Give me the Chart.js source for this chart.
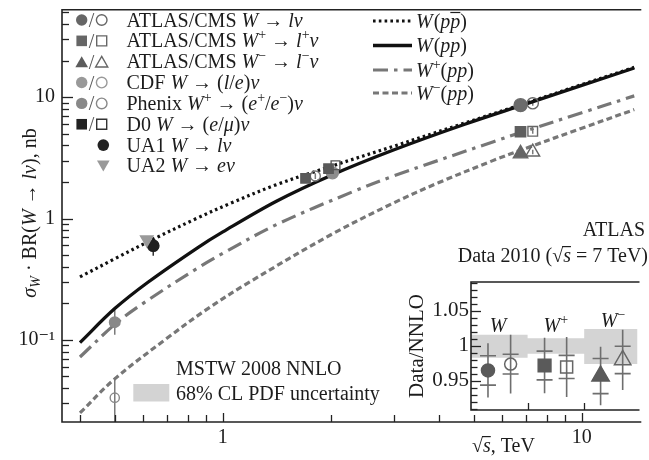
<!DOCTYPE html>
<html><head><meta charset="utf-8">
<script src="https://cdn.jsdelivr.net/npm/chart.js@4.4.0/dist/chart.umd.min.js"></script>
<style>
html,body{margin:0;padding:0;background:#fff;}
#wrap{position:relative;width:649px;height:460px;overflow:hidden;background:#fff;}
#main{position:absolute;left:0;top:0;}
#inset{position:absolute;left:380px;top:270px;}
</style></head><body>
<div id="wrap"><canvas id="main" width="649" height="460"></canvas><canvas id="inset" width="269" height="160"></canvas></div>
<script>
// ---------------- DATA ----------------
// Theory curves: sqrt(s) [TeV] and sigma*BR [nb]
const sqrtsWppbar = [0.4, 0.5, 0.63, 0.85, 1.05, 1.41, 2.0, 3.0, 4.7, 7.0, 10, 14];
const sigWppbar   = [0.33, 0.466, 0.66, 1.01, 1.334, 1.9, 2.69, 3.95, 6.1, 8.95, 12.7, 17.6];
const sqrtsWpp    = [0.4, 0.5, 0.62, 0.85, 1.0, 1.41, 2.0, 3.0, 4.7, 7.0, 10, 14];
const sigWpp      = [0.095, 0.181, 0.30, 0.574, 0.776, 1.39, 2.267, 3.687, 5.96, 8.81, 12.5, 17.38];
const sqrtsWplus  = [0.4, 0.5, 0.6, 0.85, 1.0, 1.41, 2.29, 3.0, 5.65, 7.0, 10, 14];
const sigWplus    = [0.0722, 0.134, 0.200, 0.39, 0.516, 0.89, 1.653, 2.249, 4.28, 5.29, 7.44, 10.25];
const sqrtsWminus = [0.4, 0.5, 0.7, 0.9, 1.17, 2.0, 3.0, 4.0, 5.65, 7.0, 10, 14];
const sigWminus   = [0.025, 0.0477, 0.1034, 0.1774, 0.292, 0.735, 1.35, 1.98, 3.0, 3.8, 5.55, 7.9];

// Measurements
const measLabels = ['ATLAS W','CMS W','ATLAS W+','CMS W+','ATLAS W-','CMS W-','CDF a','CDF b','Phenix W+','Phenix W-','D0 a','D0 b','D0 c','UA1','UA2'];
const measSqrtS  = [6.75, 7.3, 6.75, 7.3, 6.75, 7.3, 1.81, 2.02, 0.5, 0.5, 1.70, 1.97, 2.06, 0.64, 0.614];
const measSigma  = [8.6, 8.9, 5.19, 5.23, 3.42, 3.53, 2.24, 2.38, 0.14, 0.0334, 2.14, 2.58, 2.75, 0.597, 0.671];
const measErrLo  = [null, 8.5, null, 5.0, null, 3.38, 2.12, null, 0.110, 0.015, null, null, null, 0.494, null];
const measErrHi  = [null, 9.3, null, 5.45, null, 3.68, 2.36, null, 0.177, 0.049, null, null, null, 0.697, null];

// Inset: Data / NNLO
const insetPos      = [0.30, 0.70, 1.30, 1.69, 2.29, 2.68];
const insetRatio    = [0.965, 0.974, 0.972, 0.970, 0.957, 0.980];
const insetErrInner = [0.021, 0.014, 0.0205, 0.0165, 0.025, 0.0195];
const insetErrTotal = [0.0386, 0.042, 0.0395, 0.0427, 0.0417, 0.043];
const insetBandEdges = [0, 1, 2, 3];
const insetBandLo    = [0.983, 0.9886, 0.974];
const insetBandHi    = [1.016, 1.011, 1.024];
const insetGroupLabels = ['W', 'W+', 'W−'];

// Tick values / labels
const xMajorTicks  = [1, 10];
const xMajorLabels = ['1', '10'];
const xMinorTicks  = [0.4, 0.5, 0.6, 0.7, 0.8, 0.9, 2, 3, 4, 5, 6, 7, 8, 9];
const yMajorTicks  = [0.1, 1, 10];
const yMajorLabels = ['10⁻¹', '1', '10'];
const yMinorTicks  = [0.03,0.04,0.05,0.06,0.07,0.08,0.09,0.2,0.3,0.4,0.5,0.6,0.7,0.8,0.9,2,3,4,5,6,7,8,9,20,30,40,50];
const insetMajorTicks  = [0.95, 1, 1.05];
const insetMajorLabels = ['0.95', '1', '1.05'];
const insetMinorTicks  = [0.91,0.92,0.93,0.94,0.96,0.97,0.98,0.99,1.01,1.02,1.03,1.04,1.06,1.07,1.08,1.09];

// ---------------- STYLE ----------------
const FONT = '"Liberation Serif","DejaVu Serif","Times New Roman",serif';
const INK = '#1c1c1c';
const T = 'rgba(0,0,0,0)';
const measStyle = [
  {ps:'circle', r:6.5, bg:'#6b6b6b', bc:'#6b6b6b'},
  {ps:'circle', r:5.6, bg:T, bc:'#666'},
  {ps:'rect', r:7.3, bg:'#5f5f5f', bc:'#5f5f5f'},
  {ps:'rect', r:6.8, bg:T, bc:'#666'},
  {ps:'triangle', r:8.3, bg:'#666', bc:'#666'},
  {ps:'triangle', r:8, bg:T, bc:'#666'},
  {ps:'circle', r:5, bg:T, bc:'#777'},
  {ps:'circle', r:6, bg:'#8c8c8c', bc:'#8c8c8c'},
  {ps:'circle', r:5.3, bg:'#888', bc:'#888'},
  {ps:'circle', r:4.6, bg:T, bc:'#888'},
  {ps:'rect', r:6.6, bg:'#5a5a5a', bc:'#5a5a5a'},
  {ps:'rect', r:6.6, bg:'#5a5a5a', bc:'#5a5a5a'},
  {ps:'rect', r:6.2, bg:T, bc:'#555'},
  {ps:'circle', r:5.7, bg:'#1e1e1e', bc:'#1e1e1e', eb:'#333'},
  {ps:'triangle', r:7.2, rot:180, bg:'#9a9a9a', bc:'#9a9a9a'}
];
const insetStyle = [
  {ps:'circle', r:6.5, bg:'#5a5a5a', bc:'#5a5a5a'},
  {ps:'circle', r:6, bg:T, bc:'#666'},
  {ps:'rect', r:9, bg:'#5a5a5a', bc:'#5a5a5a'},
  {ps:'rect', r:8.5, bg:T, bc:'#666'},
  {ps:'triangle', r:10, bg:'#5a5a5a', bc:'#5a5a5a'},
  {ps:'triangle', r:9.5, bg:T, bc:'#666'}
];

// ---------------- TEXT HELPERS ----------------
function fnt(r, size){ const s = (r.sup||r.sub) ? size*0.7 : size; return (r.i?'italic ':'') + s.toFixed(1) + 'px ' + FONT; }
function runsW(ctx, runs, size){ let w=0; for(const r of runs){ ctx.font=fnt(r,size); w += ctx.measureText(r.t).width + (r.dx||0);} return w; }
function drawRuns(ctx, x, y, runs, size, align, color){
  const w = runsW(ctx, runs, size);
  let cx = align==='center' ? x-w/2 : align==='right' ? x-w : x;
  ctx.fillStyle = color || INK; ctx.textAlign='left'; ctx.textBaseline='alphabetic';
  for(const r of runs){
    ctx.font = fnt(r,size);
    const dy = r.sup ? -size*0.4 : r.sub ? size*0.22 : 0;
    ctx.fillText(r.t, cx, y+dy);
    const rw = ctx.measureText(r.t).width;
    if(r.bar){ ctx.fillRect(cx + (r.bl||0), y - size*(r.by||0.74), rw - (r.bl||0) + (r.br||0), Math.max(1.1, size*0.06)); }
    cx += rw + (r.dx||0);
  }
  return w;
}
function marker(ctx, type, x, y, r, fill, stroke, lw){
  ctx.beginPath();
  if(type==='circle') ctx.arc(x,y,r,0,Math.PI*2);
  else if(type==='rect') ctx.rect(x-r,y-r,2*r,2*r);
  else if(type==='tri'){ ctx.moveTo(x,y-r); ctx.lineTo(x+r*0.866,y+r*0.5); ctx.lineTo(x-r*0.866,y+r*0.5); ctx.closePath(); }
  else if(type==='triDown'){ ctx.moveTo(x,y+r); ctx.lineTo(x+r*0.866,y-r*0.5); ctx.lineTo(x-r*0.866,y-r*0.5); ctx.closePath(); }
  if(fill){ ctx.fillStyle=fill; ctx.fill(); }
  if(stroke){ ctx.strokeStyle=stroke; ctx.lineWidth=lw||1.5; ctx.stroke(); }
}
const pts = (xs, ys) => xs.map((v,i)=>({x:v, y:ys[i]}));
const zeroPad = (s)=>{ s.paddingTop=0; s.paddingBottom=0; s.paddingLeft=0; s.paddingRight=0; };

// ---------------- MAIN CHART ----------------
const leftLegend = [
  {f:['circle',5.7,'#666'], o:['circle',5.3,'#666'], runs:[{t:'ATLAS/CMS '},{t:'W',i:1},{t:' → '},{t:'lν',i:1}]},
  {f:['rect',5.3,'#666'], o:['rect',5,'#666'], runs:[{t:'ATLAS/CMS '},{t:'W',i:1},{t:'+',sup:1},{t:' → '},{t:'l',i:1},{t:'+',sup:1},{t:'ν',i:1}]},
  {f:['tri',7.3,'#5c5c5c'], o:['tri',7,'#666'], runs:[{t:'ATLAS/CMS '},{t:'W',i:1},{t:'−',sup:1},{t:' → '},{t:'l',i:1},{t:'−',sup:1},{t:'ν',i:1}]},
  {f:['circle',5.7,'#999'], o:['circle',5.3,'#999'], runs:[{t:'CDF '},{t:'W',i:1},{t:' → ('},{t:'l',i:1},{t:'/'},{t:'e',i:1},{t:')'},{t:'ν',i:1}]},
  {f:['circle',5.7,'#888'], o:['circle',5.3,'#888'], runs:[{t:'Phenix '},{t:'W',i:1},{t:'+',sup:1},{t:' → ('},{t:'e',i:1},{t:'+',sup:1},{t:'/'},{t:'e',i:1},{t:'−',sup:1},{t:')'},{t:'ν',i:1}]},
  {f:['rect',5.3,'#222'], o:['rect',5,'#333'], runs:[{t:'D0 '},{t:'W',i:1},{t:' → ('},{t:'e',i:1},{t:'/'},{t:'μ',i:1},{t:')'},{t:'ν',i:1}]},
  {c:['circle',5.8,'#222'], runs:[{t:'UA1 '},{t:'W',i:1},{t:' → '},{t:'lν',i:1}]},
  {c:['triDown',7.3,'#999'], runs:[{t:'UA2 '},{t:'W',i:1},{t:' → '},{t:'eν',i:1}]}
];
const rightLegend = [
  {color:'#111', dash:[2.6,3.2], w:3.2, y:21, runs:[{t:'W',i:1,dx:1},{t:'('},{t:'p',i:1},{t:'p',i:1,bar:1,by:0.78},{t:')'}]},
  {color:'#111', dash:[], w:3.3, y:45.5, runs:[{t:'W',i:1,dx:1},{t:'('},{t:'pp',i:1},{t:')'}]},
  {color:'#777', dash:[15,6,3.5,6], w:3.2, y:70, runs:[{t:'W',i:1},{t:'+',sup:1},{t:'('},{t:'pp',i:1},{t:')'}]},
  {color:'#777', dash:[6,3.5], w:3.2, y:93, runs:[{t:'W',i:1},{t:'−',sup:1},{t:'('},{t:'pp',i:1},{t:')'}]}
];

const mainDeco = {
  id:'mainDeco',
  beforeDatasetsDraw(chart){
    const {ctx, chartArea:a, scales:{x,y}} = chart;
    ctx.save(); ctx.beginPath(); ctx.rect(a.left,a.top,a.right-a.left,a.bottom-a.top); ctx.clip();
    ctx.lineWidth = 1.5;
    for(let i=0;i<measSqrtS.length;i++){
      if(measErrLo[i]==null) continue;
      const px = x.getPixelForValue(measSqrtS[i]);
      ctx.strokeStyle = measStyle[i].eb || '#7a7a7a';
      ctx.beginPath(); ctx.moveTo(px, y.getPixelForValue(measErrLo[i])); ctx.lineTo(px, y.getPixelForValue(measErrHi[i])); ctx.stroke();
    }
    ctx.restore();
  },
  afterDraw(chart){
    const {ctx, chartArea:a, scales:{x,y}} = chart;
    ctx.save();
    ctx.strokeStyle = '#222'; ctx.lineWidth = 1.6;
    ctx.beginPath();
    ctx.moveTo(a.right+2, a.top); ctx.lineTo(a.left, a.top); ctx.lineTo(a.left, a.bottom); ctx.lineTo(a.right+2, a.bottom);
    ctx.stroke();
    ctx.lineWidth = 1.3;
    const yt = (v,len)=>{ const p=Math.round(y.getPixelForValue(v))+0.5; ctx.beginPath(); ctx.moveTo(a.left,p); ctx.lineTo(a.left+len,p); ctx.stroke(); };
    const xt = (v,len)=>{ const p=Math.round(x.getPixelForValue(v))+0.5; ctx.beginPath(); ctx.moveTo(p,a.bottom); ctx.lineTo(p,a.bottom-len); ctx.stroke(); };
    yMajorTicks.forEach(v=>yt(v,11)); yMinorTicks.forEach(v=>yt(v,7));
    xMajorTicks.forEach(v=>xt(v,9)); xMinorTicks.forEach(v=>xt(v,7));
    ctx.save(); ctx.translate(36, 213); ctx.rotate(-Math.PI/2);
    drawRuns(ctx, 0, 0, [{t:'σ',i:1},{t:'W',i:1,sub:1},{t:' · BR('},{t:'W',i:1},{t:' → '},{t:'lν',i:1},{t:'), nb'}], 20, 'center');
    ctx.restore();
    drawRuns(ctx, 472, 452, [{t:'√'},{t:'s',i:1,bar:1,by:0.8,bl:-1},{t:', TeV'}], 20, 'left');
    leftLegend.forEach((e,i)=>{
      const ry = 20 + 20.85*i;
      if(e.c){ const off = e.c[0]==='triDown' ? -e.c[1]/4 : 0; marker(ctx, e.c[0], 103.3, ry+off, e.c[1], e.c[2]); }
      else {
        const offF = e.f[0]==='tri' ? e.f[1]/4 : 0, offO = e.o[0]==='tri' ? e.o[1]/4 : 0;
        marker(ctx, e.f[0], 81.7, ry+offF, e.f[1], e.f[2]);
        ctx.font = '20px '+FONT; ctx.fillStyle='#555'; ctx.textAlign='center'; ctx.textBaseline='alphabetic';
        ctx.fillText('/', 91.5, ry+7);
        marker(ctx, e.o[0], 101.7, ry+offO, e.o[1], null, e.o[2], 1.4);
      }
      drawRuns(ctx, 126.5, ry+6.5, e.runs, 20, 'left');
    });
    rightLegend.forEach(e=>{
      ctx.save(); ctx.strokeStyle=e.color; ctx.lineWidth=e.w; ctx.setLineDash(e.dash); ctx.lineCap='butt';
      ctx.beginPath(); ctx.moveTo(373, e.y); ctx.lineTo(412, e.y); ctx.stroke(); ctx.restore();
      drawRuns(ctx, 416, e.y+6.5, e.runs, 20, 'left');
    });
    drawRuns(ctx, 645, 236, [{t:'ATLAS'}], 20, 'right');
    drawRuns(ctx, 648, 262, [{t:'Data 2010 ('},{t:'√'},{t:'s',i:1,bar:1,by:0.8,bl:-1},{t:' = 7 TeV)'}], 20, 'right');
    drawRuns(ctx, 176, 375, [{t:'MSTW 2008 NNLO'}], 20, 'left');
    drawRuns(ctx, 176, 400, [{t:'68% CL PDF uncertainty'}], 20, 'left');
    ctx.fillStyle = '#d3d3d3'; ctx.fillRect(133.3, 384, 36, 17.5);
    ctx.restore();
  }
};

const X_MIN = 0.35645, X_MAX = 14.46, Y_MIN = 0.02104, Y_MAX = 52.6;
const curveDefaults = {showLine:true, pointRadius:0, borderCapStyle:'butt', tension:0.35, fill:false};

new Chart(document.getElementById('main'), {
  type:'scatter',
  data:{ datasets:[
    { label:'measurements', data: pts(measSqrtS, measSigma),
      pointStyle: measStyle.map(s=>s.ps), pointRadius: measStyle.map(s=>s.r),
      pointRotation: measStyle.map(s=>s.rot||0),
      pointBackgroundColor: measStyle.map(s=>s.bg), pointBorderColor: measStyle.map(s=>s.bc),
      pointBorderWidth: 1.4, showLine:false },
    Object.assign({label:'W(ppbar)', data: pts(sqrtsWppbar, sigWppbar), borderColor:'#111', borderWidth:3.2, borderDash:[2.6,3.2]}, curveDefaults),
    Object.assign({label:'W(pp)', data: pts(sqrtsWpp, sigWpp), borderColor:'#111', borderWidth:3.3}, curveDefaults),
    Object.assign({label:'W+(pp)', data: pts(sqrtsWplus, sigWplus), borderColor:'#777', borderWidth:3.2, borderDash:[15,6,3.5,6]}, curveDefaults),
    Object.assign({label:'W-(pp)', data: pts(sqrtsWminus, sigWminus), borderColor:'#777', borderWidth:3.2, borderDash:[6,3.5]}, curveDefaults)
  ]},
  options:{
    responsive:false, animation:false, events:[],
    layout:{padding:{left:0,right:0,top:4,bottom:0}},
    plugins:{legend:{display:false}, tooltip:{enabled:false}},
    scales:{
      x:{ type:'logarithmic', min:X_MIN, max:X_MAX,
          grid:{display:false, drawTicks:false}, border:{display:false},
          afterBuildTicks(s){ s.ticks = xMajorTicks.concat(xMinorTicks).sort((a,b)=>a-b).map(v=>({value:v})); },
          ticks:{ autoSkip:false, maxRotation:0, minRotation:0, padding:4, color:INK, font:{family:FONT, size:20},
                  callback:(v)=>{ const k=xMajorTicks.indexOf(v); return k>=0 ? xMajorLabels[k] : ''; } },
          afterFit(s){ s.height = 38; zeroPad(s); } },
      y:{ type:'logarithmic', min:Y_MIN, max:Y_MAX,
          grid:{display:false, drawTicks:false}, border:{display:false},
          afterBuildTicks(s){ s.ticks = yMajorTicks.concat(yMinorTicks).sort((a,b)=>a-b).map(v=>({value:v})); },
          ticks:{ autoSkip:false, padding:7, color:INK, font:{family:FONT, size:20},
                  callback:(v)=>{ const k=yMajorTicks.indexOf(v); return k>=0 ? yMajorLabels[k] : ''; } },
          afterFit(s){ s.width = 62; zeroPad(s); } }
    }
  },
  plugins:[mainDeco]
});

// ---------------- INSET CHART ----------------
const insetDeco = {
  id:'insetDeco',
  afterDatasetDraw(chart, args){
    if(args.index !== 1) return;
    const {ctx, scales:{x,y}} = chart;
    ctx.save(); ctx.strokeStyle='#6e6e6e'; ctx.lineWidth=1.6;
    insetPos.forEach((p,i)=>{
      const px = x.getPixelForValue(p);
      ctx.beginPath();
      ctx.moveTo(px, y.getPixelForValue(insetRatio[i]-insetErrTotal[i]));
      ctx.lineTo(px, y.getPixelForValue(insetRatio[i]+insetErrTotal[i]));
      [insetRatio[i]-insetErrInner[i], insetRatio[i]+insetErrInner[i]].forEach(v=>{
        const py = y.getPixelForValue(v); ctx.moveTo(px-8, py); ctx.lineTo(px+8, py);
      });
      ctx.stroke();
    });
    ctx.restore();
  },
  afterDraw(chart){
    const {ctx, chartArea:a, scales:{x,y}} = chart;
    ctx.save();
    ctx.strokeStyle='#222'; ctx.lineWidth=1.6;
    ctx.beginPath(); ctx.moveTo(a.right+2, a.top); ctx.lineTo(a.left, a.top); ctx.lineTo(a.left, a.bottom); ctx.lineTo(a.right+2, a.bottom); ctx.stroke();
    ctx.lineWidth=1.3;
    const yt=(v,len)=>{ const p=Math.round(y.getPixelForValue(v))+0.5; ctx.beginPath(); ctx.moveTo(a.left,p); ctx.lineTo(a.left+len,p); ctx.stroke(); };
    insetMajorTicks.forEach(v=>yt(v,10)); insetMinorTicks.forEach(v=>yt(v,6.5));
    [1,2].forEach(v=>{ const p=Math.round(x.getPixelForValue(v))+0.5; ctx.beginPath(); ctx.moveTo(p,a.bottom); ctx.lineTo(p,a.bottom-7); ctx.stroke(); });
    const gl = [[0.48,1.03],[1.5,1.03],[2.51,1.037]];
    insetGroupLabels.forEach((g,i)=>{
      const runs = g.length>1 ? [{t:'W',i:1},{t:g[1],sup:1}] : [{t:'W',i:1}];
      drawRuns(ctx, x.getPixelForValue(gl[i][0]), y.getPixelForValue(gl[i][1])+7, runs, 20, 'center');
    });
    ctx.save(); ctx.translate(43, 76); ctx.rotate(-Math.PI/2);
    drawRuns(ctx, 0, 0, [{t:'Data/NNLO'}], 21, 'center');
    ctx.restore();
    ctx.restore();
  }
};
const bandStep = (vals)=> insetBandEdges.map((e,i)=>({x:e, y: vals[Math.min(i, vals.length-1)]}));

new Chart(document.getElementById('inset'), {
  type:'scatter',
  data:{ datasets:[
    { label:'ratio', data: pts(insetPos, insetRatio), order:0,
      pointStyle: insetStyle.map(s=>s.ps), pointRadius: insetStyle.map(s=>s.r),
      pointBackgroundColor: insetStyle.map(s=>s.bg), pointBorderColor: insetStyle.map(s=>s.bc),
      pointBorderWidth:1.5, showLine:false },
    { label:'band hi', data: bandStep(insetBandHi), order:2, showLine:true, stepped:'before', borderWidth:0, pointRadius:0,
      fill:'+1', backgroundColor:'#d4d4d4', borderColor:'rgba(0,0,0,0)' },
    { label:'band lo', data: bandStep(insetBandLo), order:2, showLine:true, stepped:'before', borderWidth:0, pointRadius:0,
      fill:false, borderColor:'rgba(0,0,0,0)' }
  ]},
  options:{
    responsive:false, animation:false, events:[],
    layout:{padding:{left:0,right:0,top:12,bottom:20}},
    plugins:{legend:{display:false}, tooltip:{enabled:false}},
    scales:{
      x:{ type:'linear', min:0, max:2.942, display:false },
      y:{ type:'linear', min:0.9086, max:1.091,
          grid:{display:false, drawTicks:false}, border:{display:false},
          afterBuildTicks(s){ s.ticks = insetMajorTicks.map(v=>({value:v})); },
          ticks:{ autoSkip:false, padding:2, color:INK, font:{family:FONT, size:21},
                  callback:(v)=>{ const k=insetMajorTicks.indexOf(v); return k>=0 ? insetMajorLabels[k] : ''; } },
          afterFit(s){ s.width = 91; zeroPad(s); } }
    }
  },
  plugins:[insetDeco]
});
</script></body></html>
